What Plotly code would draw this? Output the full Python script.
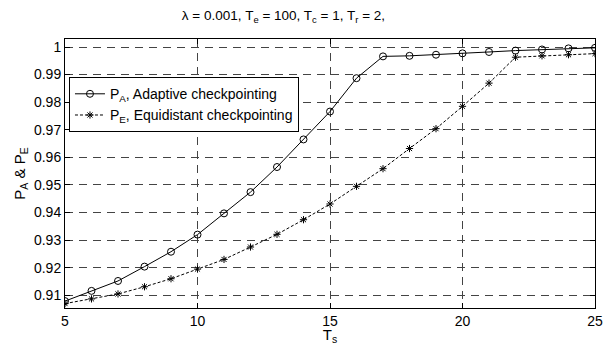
import plotly.graph_objects as go

ts = [5, 6, 7, 8, 9, 10, 11, 12, 13, 14, 15, 16, 17, 18, 19, 20, 21, 22, 23, 24, 25]
p_adaptive = [0.9079, 0.9116, 0.9152, 0.9204, 0.9258, 0.9320, 0.9397, 0.9474, 0.9565, 0.9665,
              0.9766, 0.9887, 0.9966, 0.9968, 0.9972, 0.9977, 0.9982, 0.9987, 0.9991, 0.9995, 0.9997]
p_equidistant = [0.9070, 0.9087, 0.9105, 0.9131, 0.9160, 0.9195, 0.9230, 0.9275, 0.9321, 0.9374,
                 0.9431, 0.9495, 0.9559, 0.9632, 0.9704, 0.9785, 0.9869, 0.9963, 0.9968, 0.9972, 0.9976]
x_ticks = [5, 10, 15, 20, 25]
y_ticks = [0.91, 0.92, 0.93, 0.94, 0.95, 0.96, 0.97, 0.98, 0.99, 1.0]
y_tick_labels = ["0.91", "0.92", "0.93", "0.94", "0.95", "0.96", "0.97", "0.98", "0.99", "1"]

font = "Liberation Sans, Arial, sans-serif"

fig = go.Figure()
fig.add_trace(go.Scatter(
    x=ts, y=p_adaptive, mode="lines+markers",
    name="P<sub>A</sub>, Adaptive checkpointing",
    line=dict(color="black", width=1),
    marker=dict(symbol="circle-open", size=7, color="black", line=dict(width=1)),
))
fig.add_trace(go.Scatter(
    x=ts, y=p_equidistant, mode="lines+markers",
    name="P<sub>E</sub>, Equidistant checkpointing",
    line=dict(color="black", width=1, dash="3px,2px"),
    marker=dict(symbol="asterisk-open", size=6, color="black", line=dict(width=1)),
))

axis_common = dict(
    showline=True, linecolor="black", linewidth=1, mirror="ticks",
    ticks="inside", ticklen=5, tickcolor="black",
    showgrid=True, gridcolor="#444", griddash="8px,6px", gridwidth=1,
    zeroline=False, automargin=False,
    tickfont=dict(family=font, size=14, color="black"),
)

fig.update_layout(
    width=603, height=345,
    margin=dict(l=65, r=8, t=39, b=37),
    paper_bgcolor="white", plot_bgcolor="white",
    title=dict(
        text="λ = 0.001, T<sub>e</sub> = 100, T<sub>c</sub> = 1, T<sub>r</sub> = 2,",
        x=0.47, xanchor="center", y=0.955, yanchor="middle",
        font=dict(family=font, size=13.5, color="black"),
    ),
    xaxis=dict(
        range=[5, 25], tickvals=x_ticks,
        title=dict(text="T<sub>s</sub>", font=dict(family=font, size=15, color="black"), standoff=4),
        **axis_common,
    ),
    yaxis=dict(
        range=[0.9054, 1.0029], tickvals=y_ticks, ticktext=y_tick_labels,
        title=dict(text="P<sub>A</sub> &amp; P<sub>E</sub>", font=dict(family=font, size=15, color="black"), standoff=4),
        **axis_common,
    ),
    legend=dict(
        x=0.0075, y=0.858, xanchor="left", yanchor="top",
        bgcolor="white", bordercolor="black", borderwidth=1,
        font=dict(family=font, size=14, color="black"),
        tracegroupgap=0, itemwidth=30,
    ),
    showlegend=True,
)

fig.write_html(
    "out.html",
    config={"displayModeBar": False},
    post_script="document.body.style.margin='0';document.body.style.padding='0';",
)
